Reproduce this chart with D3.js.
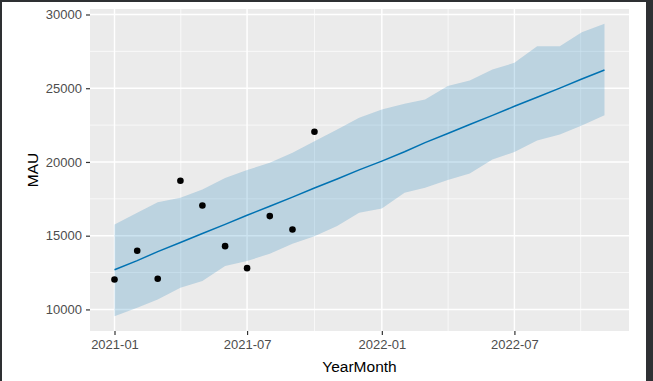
<!DOCTYPE html>
<html>
<head>
<meta charset="utf-8">
<script src="https://cdn.jsdelivr.net/npm/d3@7"></script>
<style>
  html, body { margin: 0; padding: 0; background: #fff; }
  svg { display: block; font-family: "Liberation Sans", Arial, sans-serif; }
  .tick-label { fill: #4d4d4d; font-size: 13px; }
  .axis-title { fill: #000; font-size: 15.5px; }
</style>
</head>
<body>
<div id="vis"></div>
<script>
'use strict'

// observed monthly MAU
const obsMonths = ['2021-01', '2021-02', '2021-03', '2021-04', '2021-05', '2021-06',
                   '2021-07', '2021-08', '2021-09', '2021-10']
const obsMAU = [12030, 13980, 12080, 18730, 17050, 14290, 12800, 16330, 15420, 22050]

// fitted trend and uncertainty band
const fitMonths = ['2021-01', '2021-02', '2021-03', '2021-04', '2021-05', '2021-06',
                   '2021-07', '2021-08', '2021-09', '2021-10', '2021-11', '2021-12',
                   '2022-01', '2022-02', '2022-03', '2022-04', '2022-05', '2022-06',
                   '2022-07', '2022-08', '2022-09', '2022-10', '2022-11']
const fitMAU = [12690, 13306, 13922, 14537, 15153, 15769, 16385, 17001, 17616, 18232,
                18848, 19464, 20060, 20695, 21311, 21927, 22543, 23159, 23774, 24390,
                25006, 25622, 26237]
const fitUpper = [15760, 16550, 17270, 17570, 18140, 18920, 19450, 19940, 20620, 21410,
                  22200, 22990, 23560, 23940, 24240, 25150, 25530, 26270, 26720, 27850,
                  27850, 28800, 29380]
const fitLower = [9530, 10110, 10680, 11470, 11920, 12940, 13280, 13780, 14460, 14970,
                  15650, 16550, 16850, 17910, 18250, 18770, 19220, 20170, 20670, 21460,
                  21860, 22480, 23170]

const xBreaks = ['2021-01', '2021-07', '2022-01', '2022-07']
const yBreaks = [10000, 15000, 20000, 25000, 30000]

const parseMonth = d3.utcParse('%Y-%m')

//
// CHART CONFIG
//

const totalWidth = 653
const totalHeight = 381
const panel = { left: 90, top: 9, right: 629, bottom: 331 }

const fit = fitMonths.map((m, i) => ({
  date: parseMonth(m), mid: fitMAU[i], hi: fitUpper[i], lo: fitLower[i]
}))
const obs = obsMonths.map((m, i) => ({ date: parseMonth(m), value: obsMAU[i] }))

// ggplot style 5% expansion
function expand(ext) {
  const pad = (ext[1] - ext[0]) * 0.05
  return [ext[0] - pad, ext[1] + pad]
}

const xExt = d3.extent(fit, d => +d.date)
const xDom = expand(xExt)
const x = d3.scaleUtc()
  .domain([new Date(xDom[0]), new Date(xDom[1])])
  .range([panel.left, panel.right])

const yExt = [d3.min(fit, d => d.lo), d3.max(fit, d => d.hi)]
const y = d3.scaleLinear()
  .domain(expand(yExt))
  .range([panel.bottom, panel.top])

const svg = d3.select('div#vis')
  .append('svg')
    .attr('width', totalWidth)
    .attr('height', totalHeight)

// window frame edges
svg.append('rect').attr('x', 0).attr('y', 0).attr('width', totalWidth).attr('height', 2).attr('fill', '#2e3033')
svg.append('rect').attr('x', 0).attr('y', 0).attr('width', 2).attr('height', totalHeight).attr('fill', '#2e3033')
svg.append('rect').attr('x', 646).attr('y', 0).attr('width', 7).attr('height', totalHeight).attr('fill', '#2e3033')

// panel background
svg.append('rect')
  .attr('x', panel.left)
  .attr('y', panel.top)
  .attr('width', panel.right - panel.left)
  .attr('height', panel.bottom - panel.top)
  .attr('fill', '#ebebeb')

//
// GRID
//

const xMajor = xBreaks.map(parseMonth)
const xMinor = []
for (let i = 0; i < xMajor.length - 1; i++) {
  xMinor.push(new Date((+xMajor[i] + +xMajor[i + 1]) / 2))
}
xMinor.push(new Date(+xMajor[xMajor.length - 1] + (+xMajor[1] - +xMajor[0]) / 2))
const yMinor = yBreaks.slice(0, -1).map((v, i) => (v + yBreaks[i + 1]) / 2)

const grid = svg.append('g').attr('stroke', '#fff')

grid.selectAll('line.ymin')
  .data(yMinor.filter(v => y(v) > panel.top && y(v) < panel.bottom))
  .join('line')
    .attr('x1', panel.left).attr('x2', panel.right)
    .attr('y1', d => y(d)).attr('y2', d => y(d))
    .attr('stroke-width', 0.7)

grid.selectAll('line.xmin')
  .data(xMinor.filter(d => x(d) > panel.left && x(d) < panel.right))
  .join('line')
    .attr('y1', panel.top).attr('y2', panel.bottom)
    .attr('x1', d => x(d)).attr('x2', d => x(d))
    .attr('stroke-width', 0.7)

grid.append('g').selectAll('line')
  .data(yBreaks)
  .join('line')
    .attr('x1', panel.left).attr('x2', panel.right)
    .attr('y1', d => y(d)).attr('y2', d => y(d))
    .attr('stroke-width', 1.4)

grid.append('g').selectAll('line')
  .data(xMajor)
  .join('line')
    .attr('y1', panel.top).attr('y2', panel.bottom)
    .attr('x1', d => x(d)).attr('x2', d => x(d))
    .attr('stroke-width', 1.4)

//
// DATA
//

const band = d3.area()
  .x(d => x(d.date))
  .y0(d => y(d.lo))
  .y1(d => y(d.hi))

svg.append('path')
  .datum(fit)
  .attr('d', band)
  .attr('fill', '#0072b2')
  .attr('fill-opacity', 0.2)

const trend = d3.line()
  .x(d => x(d.date))
  .y(d => y(d.mid))

svg.append('path')
  .datum(fit)
  .attr('d', trend)
  .attr('fill', 'none')
  .attr('stroke', '#0072b2')
  .attr('stroke-width', 1.5)

svg.append('g').selectAll('circle')
  .data(obs)
  .join('circle')
    .attr('cx', d => x(d.date))
    .attr('cy', d => y(d.value))
    .attr('r', 3.3)
    .attr('fill', '#000')

//
// AXES
//

const xAxis = d3.axisBottom(x)
  .tickValues(xMajor)
  .tickFormat(d3.utcFormat('%Y-%m'))
  .tickSize(4)
  .tickPadding(5)

const gx = svg.append('g')
  .attr('transform', 'translate(0,' + panel.bottom + ')')
  .call(xAxis)
gx.select('.domain').remove()
gx.selectAll('.tick line').attr('stroke', '#333').attr('stroke-width', 1.2)
gx.selectAll('.tick text').attr('class', 'tick-label').attr('font-size', null).attr('font-family', null)

const yAxis = d3.axisLeft(y)
  .tickValues(yBreaks)
  .tickFormat(d3.format('d'))
  .tickSize(4)
  .tickPadding(4)

const gy = svg.append('g')
  .attr('transform', 'translate(' + panel.left + ',0)')
  .call(yAxis)
gy.select('.domain').remove()
gy.selectAll('.tick line').attr('stroke', '#333').attr('stroke-width', 1.2)
gy.selectAll('.tick text').attr('class', 'tick-label').attr('font-size', null).attr('font-family', null)

svg.append('text')
  .attr('class', 'axis-title')
  .attr('x', (panel.left + panel.right) / 2)
  .attr('y', 372)
  .attr('text-anchor', 'middle')
  .text('YearMonth')

svg.append('text')
  .attr('class', 'axis-title')
  .attr('transform', 'translate(38,' + ((panel.top + panel.bottom) / 2) + ') rotate(-90)')
  .attr('text-anchor', 'middle')
  .text('MAU')
</script>
</body>
</html>
